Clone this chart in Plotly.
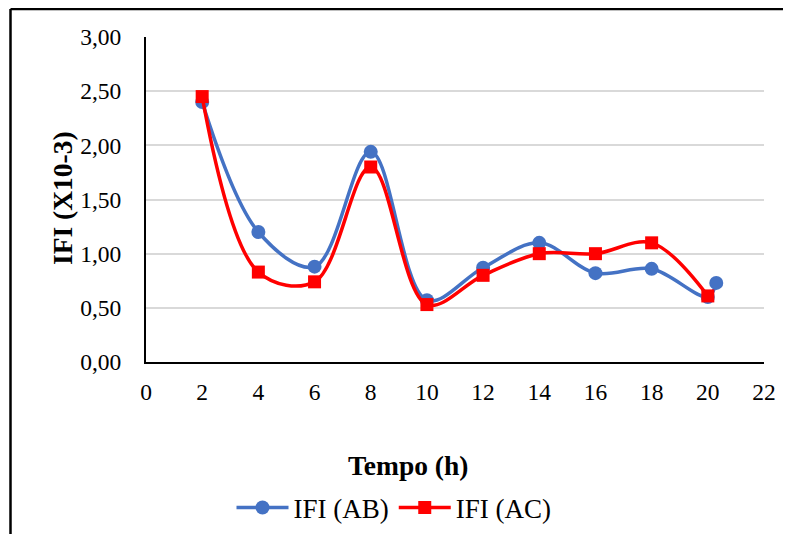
import plotly.graph_objects as go

# Data
x_ab = [2, 4, 6, 8, 10, 12, 14, 16, 18, 20, 20.3]
ifi_ab = [2.40, 1.20, 0.88, 1.94, 0.57, 0.87, 1.10, 0.82, 0.86, 0.60, 0.73]
x_ac = [2, 4, 6, 8, 10, 12, 14, 16, 18, 20]
ifi_ac = [2.45, 0.83, 0.74, 1.80, 0.53, 0.80, 1.00, 1.00, 1.10, 0.61]

blue = "#4472C4"
red = "#FF0000"
font_family = "Liberation Serif"

fig = go.Figure()
fig.add_trace(go.Scatter(
    x=x_ab, y=ifi_ab, name="IFI (AB)", mode="lines+markers",
    line=dict(color=blue, width=3.5, shape="spline", smoothing=1),
    marker=dict(symbol="circle", size=14, color=blue),
))
fig.add_trace(go.Scatter(
    x=x_ac, y=ifi_ac, name="IFI (AC)", mode="lines+markers",
    line=dict(color=red, width=3.5, shape="spline", smoothing=1),
    marker=dict(symbol="square", size=13, color=red),
))

# the page body has an 8px margin, so figure coords = page coords - 8
OFF = 8
W, H = 791 - OFF, 534 - OFF
L, R, T, B = 146 - OFF, 764 - OFF, 37 - OFF, 362 - OFF
pw, ph = R - L, B - T

def px(x):
    return (x - OFF - L) / pw

def py(y):
    return (B - (y - OFF)) / ph

fig.update_layout(
    width=W, height=H,
    margin=dict(l=L, r=W - R, t=T, b=H - B, pad=0, autoexpand=False),
    paper_bgcolor="white", plot_bgcolor="white",
    separators=",.",
    font=dict(family=font_family, color="black", size=23.5),
    showlegend=True,
    legend=dict(orientation="h", xref="container", yref="container",
                x=(394 - OFF) / W, y=(H - (508 - OFF)) / H,
                xanchor="center", yanchor="middle",
                font=dict(size=27, family=font_family), itemwidth=52,
                bgcolor="rgba(0,0,0,0)"),
    xaxis=dict(range=[0, 22], dtick=2, tick0=0, showgrid=False, zeroline=False,
               showline=True, linecolor="black", linewidth=2,
               ticks="outside", ticklen=8, tickcolor="rgba(0,0,0,0)",
               tickfont=dict(size=23.5, family=font_family)),
    yaxis=dict(range=[0, 3], dtick=0.5, tick0=0, tickformat=".2f",
               showgrid=True, gridcolor="#D9D9D9", gridwidth=1.5, zeroline=False,
               showline=True, linecolor="black", linewidth=2,
               ticks="outside", ticklen=18, tickcolor="rgba(0,0,0,0)",
               tickfont=dict(size=23.5, family=font_family)),
    annotations=[
        dict(text="<b>Tempo (h)</b>", xref="paper", yref="paper", x=px(408), y=py(465),
             xanchor="center", yanchor="middle", showarrow=False,
             font=dict(size=27.5, family=font_family)),
        dict(text="<b>IFI (X10-3)</b>", xref="paper", yref="paper", x=px(62), y=py(198),
             xanchor="center", yanchor="middle", showarrow=False, textangle=-90,
             font=dict(size=27.5, family=font_family)),
    ],
    shapes=[
        dict(type="line", xref="paper", yref="paper", x0=px(10.5), x1=px(10.5),
             y0=py(9), y1=py(560), line=dict(color="black", width=2.5)),
        dict(type="line", xref="paper", yref="paper", x0=px(10.5), x1=px(820),
             y0=py(9), y1=py(9), line=dict(color="black", width=2.5)),
    ],
)

fig.write_html("out.html")
